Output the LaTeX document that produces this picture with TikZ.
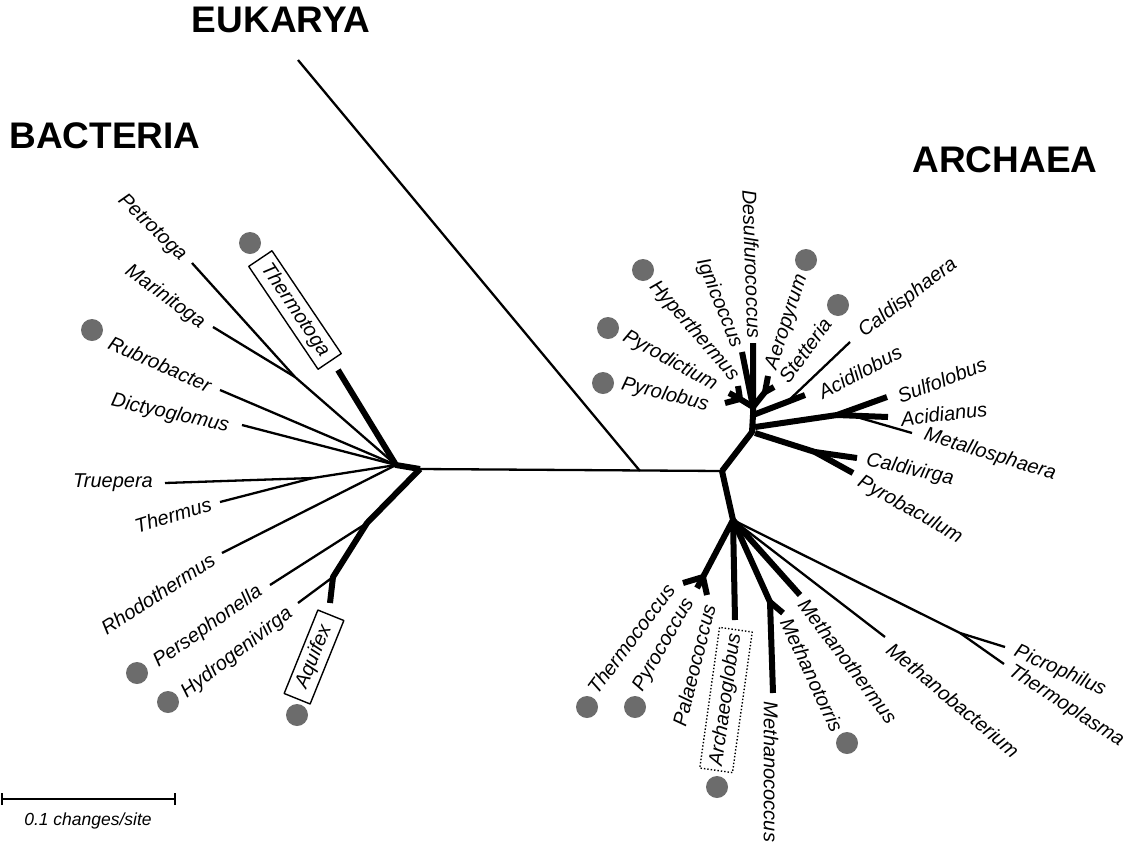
\documentclass[tikz,border=0pt]{standalone}
\usepackage{fontspec}
\setmainfont{Liberation Sans}
\definecolor{dotgray}{RGB}{108,108,108}
\begin{document}
\begin{tikzpicture}[x=1pt,y=-1pt,
  thinbr/.style={line width=2.3pt},
  thickbr/.style={line width=6pt},
  lab/.style={font=\fontsize{20}{24}\selectfont\itshape, inner sep=0pt},
  dom/.style={font=\fontsize{37}{44}\selectfont\bfseries, inner sep=0pt},
  dotnode/.style={circle, fill=dotgray, minimum size=22pt, inner sep=0pt},
  line join=round]
\useasboundingbox (0,0) rectangle (1139,841);

% ---------- headers
\node[dom] (euk) at (281,20) {EUKARYA};
\node[dom] (bac) at (105,136) {BACTERIA};
\node[dom] (arc) at (1005,160) {ARCHAEA};

% ---------- backbone
\coordinate (B0) at (420,469);
\coordinate (B1) at (396,465);
\coordinate (A0) at (722,471);
\coordinate (E0) at (640,471);
\coordinate (Eu) at (298,60);
\draw[thinbr] (B0) -- (A0);
\draw[thinbr] (Eu) -- (E0);

% ---------- bacteria
\coordinate (tThermotoga) at (338,370);
\coordinate (nPM) at (295,377);
\coordinate (tPetrotoga) at (192,263);
\coordinate (tMarinitoga) at (213,327);
\coordinate (tRubro) at (220,390);
\coordinate (tDicty) at (242,425);
\coordinate (nTT) at (313,478);
\coordinate (tTruepera) at (165,483);
\coordinate (tThermus) at (220,502);
\coordinate (tRhodo) at (222,553);
\coordinate (nAq1) at (367,523);
\coordinate (nAq2) at (333,577);
\coordinate (tPerse) at (270,585);
\coordinate (tHydro) at (298,603);
\coordinate (tAquifex) at (330,603);

\draw[thinbr] (B1) -- (nPM) -- (tPetrotoga);
\draw[thinbr] (nPM) -- (tMarinitoga);
\draw[thinbr] (B1) -- (tRubro);
\draw[thinbr] (B1) -- (tDicty);
\draw[thinbr] (B1) -- (nTT) -- (tTruepera);
\draw[thinbr] (nTT) -- (tThermus);
\draw[thinbr] (B1) -- (tRhodo);
\draw[thinbr] (nAq1) -- (tPerse);
\draw[thinbr] (nAq2) -- (tHydro);
\draw[thickbr] (B0) -- (B1) -- (tThermotoga);
\draw[thickbr] (B0) -- (nAq1) -- (nAq2) -- (tAquifex);

% bacteria labels
\node[lab, rotate=-44] (Petrotoga) at (152,228) {Petrotoga};
\node[lab, rotate=-36] (Marinitoga) at (165,297) {Marinitoga};
\node[lab, rotate=-24] (Rubrobacter) at (160,364) {Rubrobacter};
\node[lab, rotate=-12.6] (Dictyoglomus) at (170,414) {Dictyoglomus};
\node[lab] (Truepera) at (113,483) {Truepera};
\node[lab, rotate=17] (Thermus) at (173,515) {Thermus};
\node[lab, rotate=33] (Rhodothermus) at (158,594) {Rhodothermus};
\node[lab, rotate=35] (Persephonella) at (208,627) {Persephonella};
\node[lab, rotate=37.6] (Hydrogenivirga) at (237,653) {Hydrogenivirga};
\node[lab, draw, line width=1.4pt, rotate=-56, minimum width=124pt, minimum height=28pt] (Thermotoga) at (295,310) {Thermotoga};
\node[lab, draw, line width=1.4pt, rotate=68, minimum width=90pt, minimum height=28pt] (Aquifex) at (314,657) {Aquifex};

% bacteria dots
\node[dotnode] (dThermotoga) at (250,243) {};
\node[dotnode] (dRubro) at (92,330) {};
\node[dotnode] (dPerse) at (137,673) {};
\node[dotnode] (dHydro) at (168,702) {};
\node[dotnode] (dAquifex) at (297,715) {};

% ---------- archaea
\coordinate (A1) at (752,432);
\coordinate (A1b) at (753,415);
\coordinate (A2) at (753,407);
\coordinate (tDesulf) at (753,343);
\coordinate (tIgni) at (742,352);
\coordinate (nPy) at (740,399);
\coordinate (tPyrolobus) at (725,403);
\coordinate (tPyrodictium) at (729,393);
\coordinate (tHyper) at (738,386);
\coordinate (nAS) at (765,392);
\coordinate (tAero) at (768,376);
\coordinate (tStett) at (774,387);
\coordinate (nAc) at (787,402);
\coordinate (tAcidilobus) at (805,395);
\coordinate (tCaldis) at (850,342);
\coordinate (nSu0) at (755,427);
\coordinate (nSu) at (837,415);
\coordinate (tSulfo) at (887,397);
\coordinate (tAcidianus) at (888,417);
\coordinate (nMe) at (860,418);
\coordinate (tMetallo) at (912,433);
\coordinate (nCa0) at (755,433);
\coordinate (nCa) at (815,452);
\coordinate (tCaldiv) at (857,458);
\coordinate (tPyrobac) at (853,473);

\coordinate (A3) at (733,520);
\coordinate (nTh) at (703,577);
\coordinate (tThermoc) at (683,583);
\coordinate (tPyroc) at (697,588);
\coordinate (tPalaeo) at (707,595);
\coordinate (tArchaeo) at (735,620);
\coordinate (nMc) at (770,602);
\coordinate (tMethanoc) at (773,693);
\coordinate (tMethanotorris) at (783,613);
\coordinate (tMethanoth) at (800,595);
\coordinate (tMethanobac) at (885,637);
\coordinate (nPT) at (960,633);
\coordinate (tPicro) at (1005,647);
\coordinate (tThermopl) at (1004,664);

\draw[thinbr] (nAc) -- (tCaldis);
\draw[thinbr] (nMe) -- (tMetallo);
\draw[thinbr] (A3) -- (tMethanobac);
\draw[thinbr] (A3) -- (nPT) -- (tPicro);
\draw[thinbr] (nPT) -- (tThermopl);

\draw[thickbr] (A0) -- (A1) -- (A1b) -- (A2) -- (tDesulf);
\draw[thickbr] (A2) -- (tIgni);
\draw[thickbr] (A2) -- (nPy) -- (tPyrolobus);
\draw[thickbr] (nPy) -- (tPyrodictium);
\draw[thickbr] (nPy) -- (tHyper);
\draw[thickbr] (A2) -- (nAS) -- (tAero);
\draw[thickbr] (nAS) -- (tStett);
\draw[thickbr] (A1b) -- (nAc) -- (tAcidilobus);
\draw[thickbr] (nSu0) -- (nSu) -- (tSulfo);
\draw[thickbr] (nSu) -- (tAcidianus);
\draw[thickbr] (nCa0) -- (nCa) -- (tCaldiv);
\draw[thickbr] (nCa) -- (tPyrobac);

\draw[thickbr] (A0) -- (A3) -- (nTh) -- (tThermoc);
\draw[thickbr] (nTh) -- (tPyroc);
\draw[thickbr] (nTh) -- (tPalaeo);
\draw[thickbr] (A3) -- (tArchaeo);
\draw[thickbr] (A3) -- (nMc) -- (tMethanoc);
\draw[thickbr] (nMc) -- (tMethanotorris);
\draw[thickbr] (A3) -- (tMethanoth);

% archaea labels
\node[lab, rotate=-14] (Pyrolobus) at (665,395) {Pyrolobus};
\node[lab, rotate=-29] (Pyrodictium) at (670,361) {Pyrodictium};
\node[lab, rotate=-49] (Hyperthermus) at (694,331) {Hyperthermus};
\node[lab, rotate=-68] (Ignicoccus) at (719,303) {Ignicoccus};
\node[lab, rotate=-88] (Desulfurococcus) at (752,264) {Desulfurococcus};
\node[lab, rotate=72] (Aeropyrum) at (787,322) {Aeropyrum};
\node[lab, rotate=54] (Stetteria) at (805,350) {Stetteria};
\node[lab, rotate=37.5] (Caldisphaera) at (908,298) {Caldisphaera};
\node[lab, rotate=28] (Acidilobus) at (860,372) {Acidilobus};
\node[lab, rotate=21] (Sulfolobus) at (942,380) {Sulfolobus};
\node[lab, rotate=7] (Acidianus) at (944,414) {Acidianus};
\node[lab, rotate=-17] (Metallosphaera) at (990,455) {Metallosphaera};
\node[lab, rotate=-12.5] (Caldivirga) at (910,470) {Caldivirga};
\node[lab, rotate=-29.5] (Pyrobaculum) at (910,510) {Pyrobaculum};
\node[lab, rotate=53] (Thermococcus) at (631,639) {Thermococcus};
\node[lab, rotate=60] (Pyrococcus) at (664,645) {Pyrococcus};
\node[lab, rotate=76] (Palaeococcus) at (694,665) {Palaeococcus};
\node[lab, draw, dotted, line width=1.4pt, rotate=82, minimum width=142pt, minimum height=33pt] (Archaeoglobus) at (726,700) {Archaeoglobus};
\node[lab, rotate=-90] (Methanococcus) at (771,772) {Methanococcus};
\node[lab, rotate=-65] (Methanotorris) at (812,675) {Methanotorris};
\node[lab, rotate=-53] (Methanothermus) at (848,661) {Methanothermus};
\node[lab, rotate=-40] (Methanobacterium) at (953,700) {Methanobacterium};
\node[lab, rotate=-24] (Picrophilus) at (1060,671) {Picrophilus};
\node[lab, rotate=-33] (Thermoplasma) at (1066,706) {Thermoplasma};

% archaea dots
\node[dotnode] (dHyper) at (643,270) {};
\node[dotnode] (dPyrodictium) at (608,328) {};
\node[dotnode] (dPyrolobus) at (603,383) {};
\node[dotnode] (dAero) at (806,260) {};
\node[dotnode] (dStett) at (838,305) {};
\node[dotnode] (dThermoc) at (587,707) {};
\node[dotnode] (dPyroc) at (635,707) {};
\node[dotnode] (dArchaeo) at (717,787) {};
\node[dotnode] (dMethanotorris) at (847,743) {};

% ---------- scale bar
\coordinate (s0) at (2,799);
\coordinate (s1) at (175,799);
\draw[line width=2.3pt] (s0) -- (s1);
\draw[line width=2.3pt] ([yshift=-6pt]s0) -- ([yshift=6pt]s0);
\draw[line width=2.3pt] ([yshift=-6pt]s1) -- ([yshift=6pt]s1);
\node[font=\fontsize{17.5}{20}\selectfont\itshape, inner sep=0pt] (scale) at (88,821) {0.1 changes/site};
\end{tikzpicture}
\end{document}
